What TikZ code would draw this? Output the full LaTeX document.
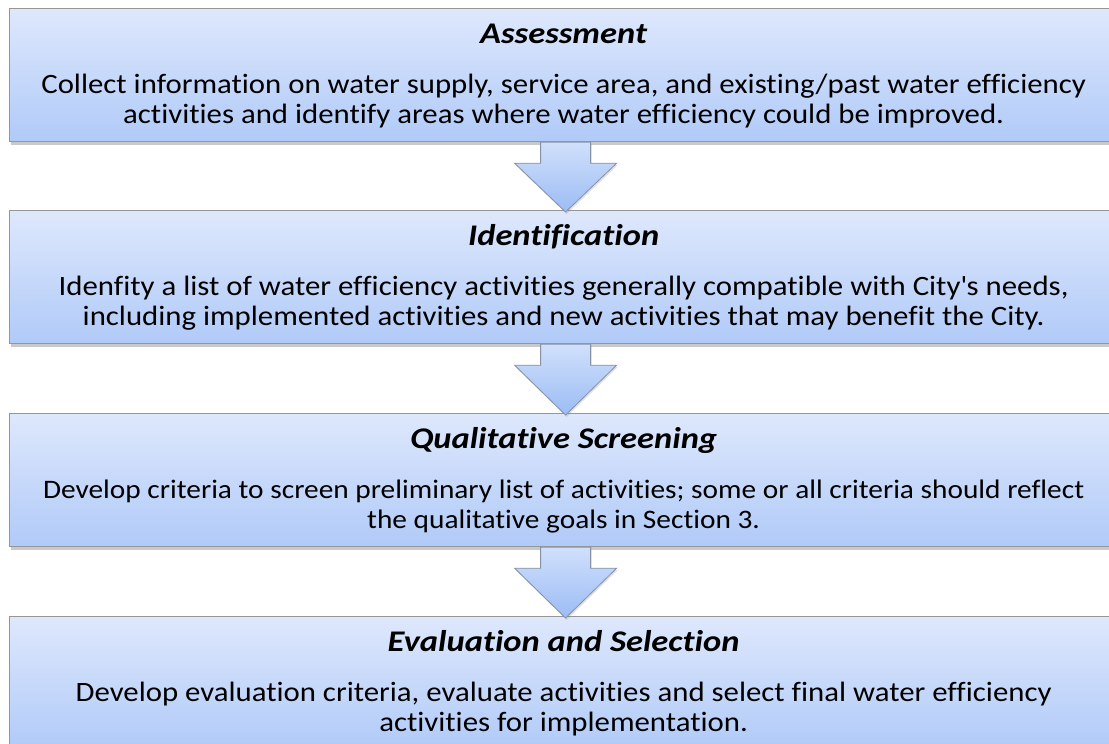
\documentclass[tikz,border=0pt]{standalone}
\usepackage{fontspec}
\setmainfont{Carlito}[Ligatures=NoCommon]
\newfontfamily\stagetextfont{Carlito}[Ligatures=NoCommon, FakeStretch=1.10]
\newfontfamily\stagetitlefont{Carlito}[Ligatures=NoCommon, FakeStretch=1.15, UprightFont=*-BoldItalic]
\usetikzlibrary{shadows,calc}

\definecolor{boxtop}{RGB}{222,232,252}
\definecolor{boxbot}{RGB}{176,202,248}
\definecolor{boxline}{RGB}{150,150,150}
\definecolor{arrtop}{RGB}{208,224,251}
\definecolor{arrbot}{RGB}{156,188,245}
\definecolor{arrline}{RGB}{135,145,165}

\begin{document}
\begin{tikzpicture}[x=1pt,y=1pt,
  stagebox/.style={draw=boxline, line width=1.2pt, top color=boxtop, bottom color=boxbot,
    minimum width=1108pt, minimum height=133pt, anchor=north west, inner sep=0pt,
    drop shadow={shadow xshift=1pt, shadow yshift=-3pt, opacity=0.3, fill=black!70}},
  stagetitle/.style={anchor=base, inner sep=0pt, font=\stagetitlefont\fontsize{30}{32}\selectfont},
  stagetext/.style={anchor=base, inner sep=0pt, font=\stagetextfont\fontsize{28}{30}\selectfont},
  smalltext/.style={stagetext, font=\stagetextfont\fontsize{26.7}{29}\selectfont},
  downarrow/.style={draw=arrline, line width=0.8pt, top color=arrtop, bottom color=arrbot,
    line join=miter,
    drop shadow={shadow xshift=1pt, shadow yshift=-2pt, opacity=0.2, fill=black!60}},
]
\useasboundingbox (0,0) rectangle (1109,-744);
\clip (0,0) rectangle (1109,-744);

% the four stages
\node[stagebox] (b1) at (9,-8) {};
\node[stagebox] (b2) at (9,-210) {};
\node[stagebox] (b3) at (9,-413) {};
\node[stagebox] (b4) at (9,-616) {};

% block arrows between consecutive stages
\foreach \a/\b in {b1/b2, b2/b3, b3/b4}{
  \draw[downarrow]
    ($(\a.south)+(-23,0)$) -- ++(0,-21) -- ++(-26,0)
    -- ($(\b.north)+(2,-2)$)
    -- ($(\a.south)+(53,-21)$) -- ++(-26,0) -- ++(0,21) -- cycle;
}

% stage texts
\node[stagetitle] (t1) at ($(b1.north)+(0,-35)$) {Assessment};
\node[stagetext] (l11) at ($(b1.north)+(0,-85)$) {Collect information on water supply, service area, and existing/past water efficiency};
\node[stagetext] (l12) at ($(b1.north)+(0,-115)$) {activities and identify areas where water efficiency could be improved.};

\node[stagetitle] (t2) at ($(b2.north)+(0,-35)$) {Identification};
\node[stagetext] (l21) at ($(b2.north)+(0,-85)$) {Idenfity a list of water efficiency activities generally compatible with City\textquotesingle s needs,};
\node[stagetext] (l22) at ($(b2.north)+(0,-115)$) {including implemented activities and new activities that may benefit the City.};

\node[stagetitle] (t3) at ($(b3.north)+(0,-35)$) {Qualitative Screening};
\node[smalltext] (l31) at ($(b3.north)+(0,-85)$) {Develop criteria to screen preliminary list of activities; some or all criteria should reflect};
\node[smalltext] (l32) at ($(b3.north)+(0,-115)$) {the qualitative goals in Section 3.};

\node[stagetitle] (t4) at ($(b4.north)+(0,-35)$) {Evaluation and Selection};
\node[stagetext] (l41) at ($(b4.north)+(0,-85)$) {Develop evaluation criteria, evaluate activities and select final water efficiency};
\node[stagetext] (l42) at ($(b4.north)+(0,-115)$) {activities for implementation.};
\end{tikzpicture}
\end{document}
